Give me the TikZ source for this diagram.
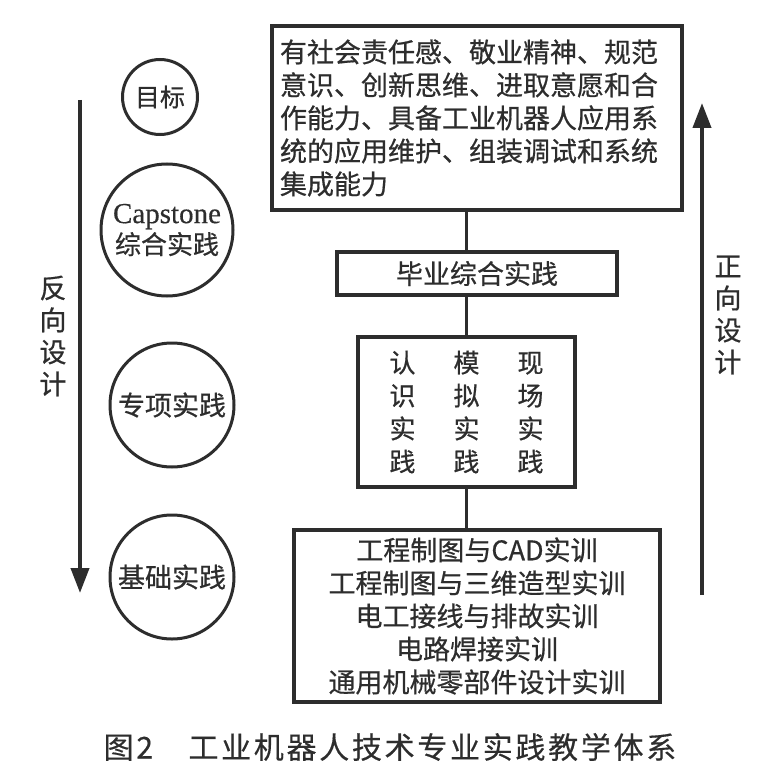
\documentclass[tikz,border=0pt]{standalone}
\usepackage{fontspec}
\setmainfont{Noto Sans CJK SC}[FakeBold=0.6]
\newfontfamily\latinfont{Liberation Serif}[FakeBold=0.4]
\newfontfamily\captionfont{Noto Sans CJK SC}[LetterSpace=9,FakeBold=0.4]
\usetikzlibrary{arrows.meta,positioning,calc}
\definecolor{inkDark}{RGB}{45,45,45}
\newcommand{\bodysize}{\fontsize{27pt}{33pt}\selectfont}
\tikzset{
  stage box/.style={draw=inkDark,line width=4pt,text=inkDark,align=center,font=\bodysize,inner sep=0pt},
  stage circle/.style={circle,draw=inkDark,line width=3pt,text=inkDark,align=center,font=\bodysize,inner sep=0pt},
  stage link/.style={draw=inkDark,line width=3.5pt},
  design arrow/.style={-{Triangle[length=25pt,width=18pt]},line width=4pt,draw=inkDark},
  side label/.style={text=inkDark,align=center,font=\fontsize{27pt}{32pt}\selectfont,inner sep=0pt}
}

\begin{document}
\begin{tikzpicture}[x=1pt,y=-1pt]
        \useasboundingbox (0,0) rectangle (778,770);
        \node[stage box,align=left,text width=394pt,inner xsep=8pt,minimum width=410pt,minimum height=184pt] (goal) at (477,118) {有社会责任感、敬业精神、规范\\意识、创新思维、进取意愿和合\\作能力、具备工业机器人应用系\\统的应用维护、组装调试和系统\\集成能力};
        \node[stage box,minimum width=280pt,minimum height=43pt] (capstone) at (477,273.5) {毕业综合实践};
        \node[stage box,minimum width=217pt,minimum height=150pt,font=\fontsize{26pt}{33pt}\selectfont] (special) at (466.5,412) {认\hspace{38pt}模\hspace{38pt}现\\识\hspace{38pt}拟\hspace{38pt}场\\实\hspace{38pt}实\hspace{38pt}实\\践\hspace{38pt}践\hspace{38pt}践};
        \node[stage box,minimum width=366pt,minimum height=172pt] (basic) at (477,616) {工程制图与CAD实训\\工程制图与三维造型实训\\电工接线与排故实训\\电路焊接实训\\通用机械零部件设计实训};
        \draw[stage link] (goal.south -| special.north) -- (capstone.north -| special.north);
        \draw[stage link] (capstone.south -| special.north) -- (special.north);
        \draw[stage link] (special.south) -- (basic.north -| special.south);
        \node[stage circle,minimum size=75pt,font=\fontsize{25pt}{30pt}\selectfont] (goal tag) at (160,97) {目标};
        \node[stage circle,minimum size=132pt,font=\fontsize{26pt}{31pt}\selectfont] (capstone tag) at (167,230) {{\latinfont\fontsize{29pt}{31pt}\selectfont Capstone}\\综合实践};
        \node[stage circle,minimum size=124pt] (special tag) at (172,405) {专项实践};
        \node[stage circle,minimum size=124pt] (basic tag) at (172,577) {基础实践};
        \coordinate (reverse top) at (80,100);
        \coordinate (reverse end) at (80,593);
        \draw[design arrow] (reverse top) -- (reverse end);
        \node[side label] (reverse label) at (53,336) {反\\向\\设\\计};
        \coordinate (forward start) at (702,595);
        \coordinate (forward end) at (702,103);
        \draw[design arrow] (forward start) -- (forward end);
        \node[side label] (forward label) at (728,315) {正\\向\\设\\计};
        \node[text=inkDark,font=\captionfont\fontsize{30pt}{34pt}\selectfont,inner sep=0pt] (caption) at (390,747) {图2　工业机器人技术专业实践教学体系};
      \end{tikzpicture}
\end{document}
